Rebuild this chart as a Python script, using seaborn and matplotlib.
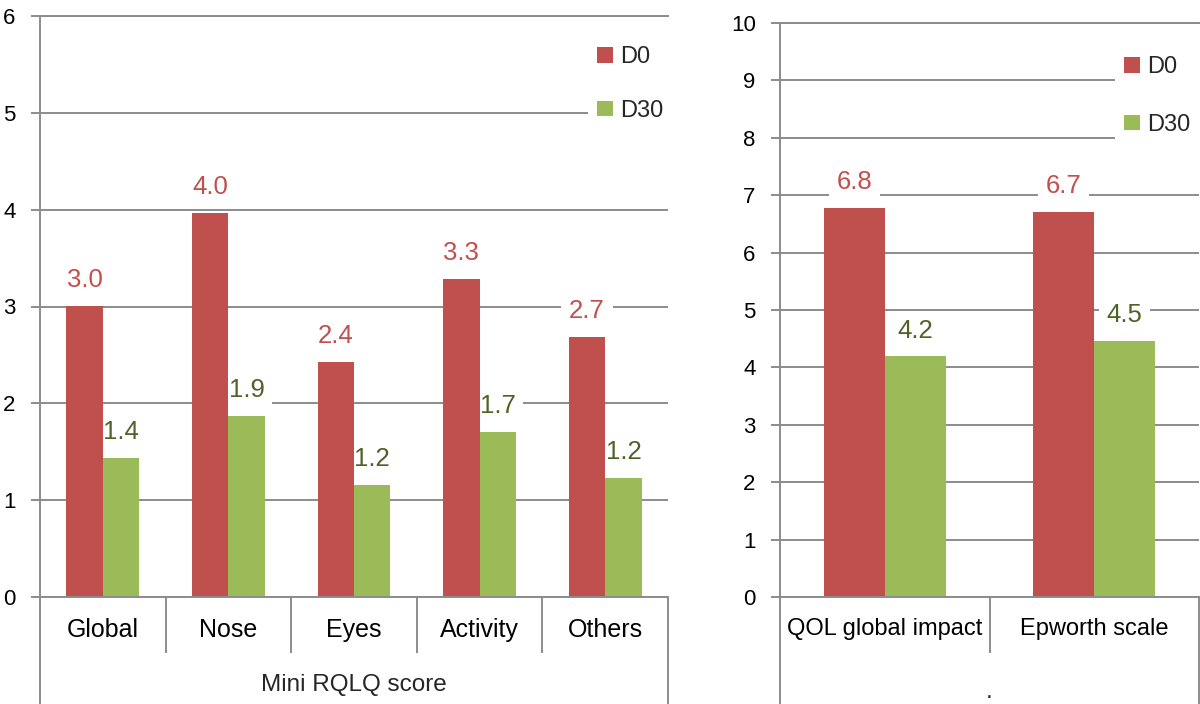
import numpy as np
import pandas as pd
import matplotlib
matplotlib.use('Agg')
import matplotlib.pyplot as plt
import seaborn as sns

# Data
left_categories = ['Global', 'Nose', 'Eyes', 'Activity', 'Others']
left_d0 = [3.01, 3.97, 2.43, 3.28, 2.69]
left_d30 = [1.44, 1.87, 1.16, 1.70, 1.23]

right_categories = ['QOL global impact', 'Epworth scale']
right_d0 = [6.78, 6.71]
right_d30 = [4.19, 4.46]

series = ['D0', 'D30']

RED = '#C0504D'
GREEN = '#9BBB59'
RED_TXT = '#C0504D'
GREEN_TXT = '#4F6228'
GRID = '#8C8C8C'

sns.set_theme(style='white')
plt.rcParams['font.family'] = ['Liberation Sans', 'DejaVu Sans']


def long_table(categories, d0, d30):
    return pd.DataFrame({
        'category': categories * 2,
        'time': [series[0]] * len(categories) + [series[1]] * len(categories),
        'score': d0 + d30,
    })


def draw_panel(ax, df, categories, ymax, group_label, group_y, cat_size,
               legend_anchor, legend_spacing):
    sns.barplot(data=df, x='category', y='score', hue='time', palette=[RED, GREEN],
                width=0.58, saturation=1, linewidth=0, errorbar=None, ax=ax)
    for patch in ax.patches:
        patch.set_zorder(2)
    n = len(categories)
    ax.set_ylim(0, ymax)
    ax.set_yticks(range(ymax + 1))
    ax.set_xlim(-0.5, n - 0.5)
    ax.set_xlabel('')
    ax.set_ylabel('')

    # gridlines and frame
    ax.yaxis.grid(True, color=GRID, lw=1.4)
    ax.xaxis.grid(False)
    ax.set_axisbelow(True)
    ax.spines['right'].set_visible(False)
    for s in ['left', 'top', 'bottom']:
        ax.spines[s].set_color(GRID)
        ax.spines[s].set_linewidth(1.4)
    ax.tick_params(axis='y', length=6.5, width=1.4, color=GRID, labelsize=16,
                   labelcolor='black', pad=11, left=True)

    # category separators below the axis
    ax.set_xticks(np.arange(n - 1) + 0.5)
    ax.set_xticklabels([])
    ax.tick_params(axis='x', which='major', length=40, width=1.4, color=GRID,
                   direction='out', bottom=True)
    ax.set_xticks(np.arange(n), minor=True)
    ax.set_xticklabels(categories, minor=True)
    ax.tick_params(axis='x', which='minor', length=0, pad=15, labelsize=cat_size,
                   labelcolor='black')
    for x in (-0.5, n - 0.5):
        ax.plot([x, x], [0, -0.25], transform=ax.get_xaxis_transform(),
                clip_on=False, color=GRID, lw=1.4)

    h = ax.get_position().height * 704
    ax.text(0.5, -group_y / h, group_label, transform=ax.transAxes, ha='center',
            va='center', fontsize=17.5)

    # value labels, white box hides the gridlines but sits under the bars
    for cont, col in zip(ax.containers, [RED_TXT, GREEN_TXT]):
        ax.bar_label(cont, fmt='%.1f', padding=10, color=col, fontsize=18.5, zorder=1.5,
                     bbox=dict(boxstyle='square,pad=0.3', fc='white', ec='none'))

    ax.legend(loc='upper left', bbox_to_anchor=legend_anchor,
              bbox_transform=ax.figure.transFigure, frameon=True, facecolor='white',
              edgecolor='none', framealpha=1, fancybox=False, fontsize=17,
              handlelength=0.64, handleheight=0.64, handletextpad=0.3,
              labelspacing=legend_spacing, borderpad=0.4, borderaxespad=0, title=None)


fig = plt.figure(figsize=(12, 7.04), dpi=100)
ax1 = fig.add_axes([40 / 1200, 107 / 704, 628 / 1200, 581 / 704])
ax2 = fig.add_axes([780 / 1200, 107 / 704, 419 / 1200, 574 / 704])

draw_panel(ax1, long_table(left_categories, left_d0, left_d30), left_categories, 6,
           'Mini RQLQ score', 88, 18, (588 / 1200, 1 - 37 / 704), 1.33)
draw_panel(ax2, long_table(right_categories, right_d0, right_d30), right_categories, 10,
           '.', 95, 17, (1115 / 1200, 1 - 47 / 704), 1.5)

fig.savefig('out.png', dpi=100)
